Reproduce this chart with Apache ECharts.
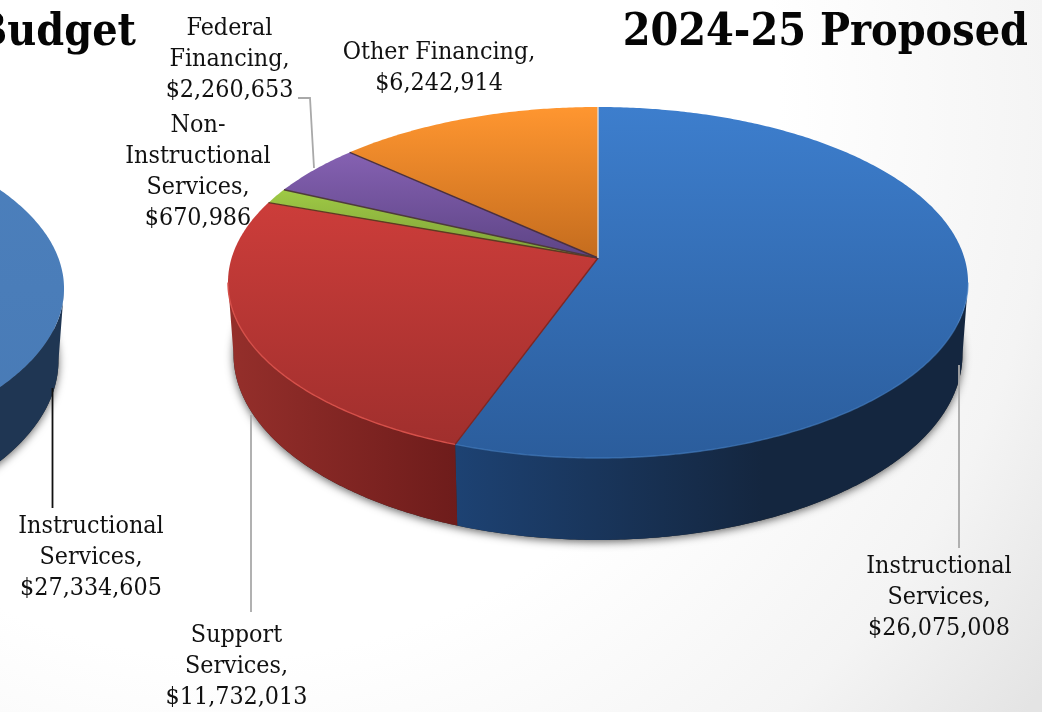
<!DOCTYPE html>
<html>
<head>
<meta charset="utf-8">
<style>html,body{margin:0;padding:0;background:#fff}#chart{width:1042px;height:712px}</style>
<script src="https://cdn.jsdelivr.net/npm/echarts@6/dist/echarts.min.js"></script>
</head>
<body>
<div id="chart"></div>
<script>
// 2024-25 proposed budget by category, clockwise from twelve o'clock
const categories = ['Instructional Services', 'Support Services', 'Non-Instructional Services', 'Federal Financing', 'Other Financing'];
const proposedValues = [26075008, 11732013, 670986, 2260653, 6242914];

// Neighbouring budget: only its instructional slice is on the page
const priorCategories = ['Instructional Services'];
const priorValues = [27334605];
const priorTotal = 49000000;

const headings = ['Budget', '2024-25 Proposed'];

// Colour ramps for the slice tops and walls; the third wall entry is where the darkest tone is reached
const topRamps = [['#3d7ecd', '#2b5d9c'], ['#cc3d3a', '#a02f2d'], ['#9fca45', '#7d9f38'], ['#8561b2', '#5d4485'], ['#ff9630', '#c46c1e']];
const wallRamps = [['#1d4273', '#14263f', 0.6], ['#952f2b', '#6e1c1b', 1], ['#7d9f38', '#5f7a2a', 1], ['#5d4485', '#46336a', 1], ['#c46c1e', '#94511a', 1]];
const seamColors = ['#7f2723', '#5e3a22', '#4e3b3a', '#4a3040', '#dcdcdc'];

// Perspective tilt of the disc
const TILT = -0.1396, RADIUS = 366.4, SQUASH = 172.1, DEPTH = 70.5, BASE_SHRINK = 0.985;
const MAIN = { cx: 598, cy: 258 };
const SIDE = { cx: -306, cy: 264 };
const FRONT_FROM = Math.acos(TILT);
const FRONT_TO = 2 * Math.PI - FRONT_FROM;

function rimPoint(pie, angle, lower) {
  const u = Math.sin(angle), v = -Math.cos(angle), w = 1 + TILT * v;
  const shrink = lower ? BASE_SHRINK : 1;
  return [pie.cx + shrink * RADIUS * u / w, pie.cy + SQUASH * v / w + (lower ? DEPTH / w : 0)];
}
function arcPoints(pie, from, to, lower) {
  const pts = [], steps = Math.max(2, Math.ceil(Math.abs(to - from) / 0.01));
  for (let i = 0; i <= steps; i++) pts.push(rimPoint(pie, from + (to - from) * i / steps, lower));
  return pts;
}
function sliceRows(values, total) {
  let run = 0;
  return values.map(function (value) {
    const row = [value, run / total, (run + value) / total];
    run += value;
    return row;
  });
}
const vertical = (a, b) => ({ type: 'linear', x: 0, y: 0, x2: 0, y2: 1, colorStops: [{ offset: 0, color: a }, { offset: 1, color: b }] });
const wallShade = ramp => ({ type: 'linear', x: 0, y: 0, x2: 1, y2: 0, colorStops: [{ offset: 0, color: ramp[0] }, { offset: ramp[2], color: ramp[1] }, { offset: 1, color: ramp[1] }] });
const angleOf = (api, dim) => api.value(dim) * 2 * Math.PI;

// Soft drop shadow under the whole disc
function shadowSeries(pie) {
  return {
    type: 'custom', coordinateSystem: 'none', silent: true, data: [[1]],
    renderItem: function () {
      return {
        type: 'polygon',
        shape: { points: arcPoints(pie, 0, 2 * Math.PI, true) },
        style: { fill: '#2a2a2a', shadowBlur: 9, shadowOffsetY: 2, shadowColor: 'rgba(0,0,0,0.6)' }
      };
    }
  };
}
function wallSeries(pie, rows, ramps) {
  return {
    type: 'custom', coordinateSystem: 'none', silent: true, data: rows,
    renderItem: function (params, api) {
      const from = Math.max(angleOf(api, 1), FRONT_FROM), to = Math.min(angleOf(api, 2), FRONT_TO);
      if (to <= from) return { type: 'group', children: [] };
      const points = arcPoints(pie, from, to, false).concat(arcPoints(pie, to, from, true));
      return { type: 'polygon', shape: { points: points }, style: { fill: wallShade(ramps[params.dataIndex]) } };
    }
  };
}
function topSeries(pie, rows, ramps, seams, rims) {
  return {
    type: 'custom', coordinateSystem: 'none', silent: true, data: rows,
    renderItem: function (params, api) {
      const from = angleOf(api, 1), to = angleOf(api, 2), i = params.dataIndex;
      const apex = [pie.cx, pie.cy], arc = arcPoints(pie, from, to, false);
      const children = [{ type: 'polygon', shape: { points: [apex].concat(arc) }, style: { fill: vertical(ramps[i][0], ramps[i][1]) } }];
      if (seams) {
        children.push({ type: 'polyline', z2: 3, shape: { points: [apex, arc[arc.length - 1]] }, style: { fill: null, stroke: seams[i], lineWidth: 1.4 } });
      }
      const rimFrom = Math.max(from, FRONT_FROM), rimTo = Math.min(to, FRONT_TO);
      if (rims && rims[i] && rimTo > rimFrom) {
        children.push({ type: 'polyline', z2: 2, shape: { points: arcPoints(pie, rimFrom, rimTo, false) }, style: { fill: null, stroke: rims[i], lineWidth: 1.4 } });
      }
      return { type: 'group', children: children };
    }
  };
}

// Label text is taken straight from the values above
const money = v => '$' + v.toLocaleString('en-US');
const labelLines = [
  ['Instructional', 'Services,'], ['Support', 'Services,'], ['Non-', 'Instructional', 'Services,'], ['Federal', 'Financing,'], ['Other Financing,']
];
const labelSpots = [[939, 597], [236.5, 666], [198, 171], [229.5, 58.5], [439, 67.5]];
const sideLabelSpot = [91, 557];
const leaderPaths = [
  { pts: [[959, 365], [959, 548]], color: '#a9a9a9' },
  { pts: [[251, 415], [251, 612]], color: '#a9a9a9' },
  { pts: [[298, 98], [310, 98], [314, 168]], color: '#a9a9a9' },
  { pts: [[52.5, 388], [52.5, 508]], color: '#111111' }
];
const LABEL_FONT = '"DejaVu Serif Condensed", "DejaVu Serif", serif';
const labelText = (lines, v, pos) => ({
  type: 'text', x: pos[0], y: pos[1] + 1, z: 20,
  style: { text: lines.concat(money(v)).join('\n'), font: '24.8px ' + LABEL_FONT, lineHeight: 31, textAlign: 'center', textVerticalAlign: 'middle', fill: '#111' }
});

const graphics = [];
leaderPaths.forEach(function (p) {
  graphics.push({ type: 'polyline', z: 15, shape: { points: p.pts }, style: { fill: null, stroke: p.color, lineWidth: 1.8 } });
});
proposedValues.forEach(function (v, i) { graphics.push(labelText(labelLines[i], v, labelSpots[i])); });
graphics.push(labelText(labelLines[0], priorValues[0], sideLabelSpot));
graphics.push({ type: 'text', x: 136, y: 33, z: 20, style: { text: headings[0], font: 'bold 44.4px ' + LABEL_FONT, textAlign: 'right', textVerticalAlign: 'middle', fill: '#050505' } });
graphics.push({ type: 'text', x: 1028, y: 33, z: 20, style: { text: headings[1], font: 'bold 44.4px ' + LABEL_FONT, textAlign: 'right', textVerticalAlign: 'middle', fill: '#050505' } });

const proposedTotal = proposedValues.reduce((a, b) => a + b, 0);
const proposedRows = sliceRows(proposedValues, proposedTotal);
const priorRows = sliceRows(priorValues, priorTotal);

const chart = echarts.init(document.getElementById('chart'), null, { renderer: 'canvas' });
chart.setOption({
  animation: false,
  backgroundColor: {
    type: 'radial', x: 0.22, y: 0.15, r: 1.405,
    colorStops: [{ offset: 0, color: '#ffffff' }, { offset: 0.55, color: '#ffffff' }, { offset: 0.82, color: '#f4f4f4' }, { offset: 1, color: '#e4e4e4' }]
  },
  graphic: { elements: graphics },
  series: [
    shadowSeries(SIDE),
    wallSeries(SIDE, priorRows, [['#1f3653', '#1f3653', 1]]),
    topSeries(SIDE, priorRows, [['#4c80bd', '#487ab5']], null, null),
    shadowSeries(MAIN),
    wallSeries(MAIN, proposedRows, wallRamps),
    topSeries(MAIN, proposedRows, topRamps, seamColors, ['rgba(70,130,200,0.6)', '#d6504a', null, null, null])
  ]
});
</script>
</body>
</html>
